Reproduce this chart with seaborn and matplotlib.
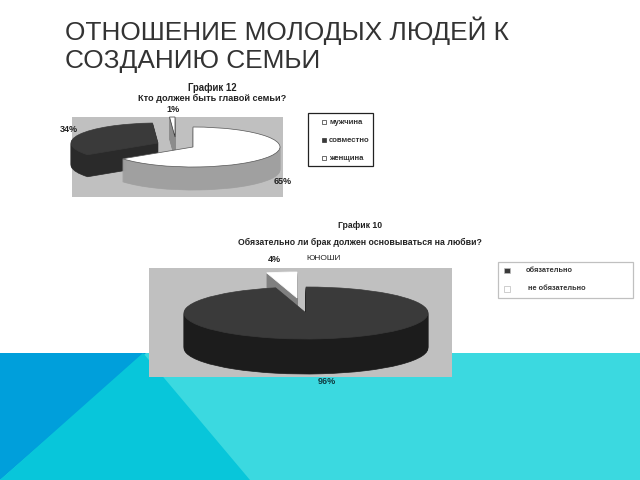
import matplotlib
matplotlib.use('Agg')
import matplotlib.pyplot as plt
from matplotlib.patches import Polygon, Rectangle
import seaborn as sns

slide_title = ['ОТНОШЕНИЕ МОЛОДЫХ ЛЮДЕЙ К', 'СОЗДАНИЮ СЕМЬИ']

top_title = 'График 12'
top_question = 'Кто должен быть главой семьи?'
top_labels = ['женщина', 'совместно', 'мужчина']
top_values = [65, 34, 1]

low_title = 'График 10'
low_question = 'Обязательно ли брак должен основываться на любви?'
low_note = 'юноши'
low_labels = ['обязательно', 'не обязательно']
low_values = [96, 4]

sns.set_theme(style='white')
plt.rcParams['font.family'] = ['Liberation Sans', 'DejaVu Sans']

GREY = '#c0c0c0'
DARK_TOP = '#3a3a3a'
DARK_SIDE = '#1c1c1c'
INK = '#222222'


def px_rect(ax, x0, y0, x1, y1, **kw):
    ax.add_patch(Rectangle((x0, y0), x1 - x0, y1 - y0, **kw))


def draw_slice(fig, values, idx, cx, cy, rx, ry, depth, top, side, outline=None, start=90):
    # one full-figure axes per slice, scaled so a unit circle becomes the ellipse
    ax = fig.add_axes([0, 0, 1, 1], facecolor='none')
    for d in list(range(depth, 0, -1)) + [0]:
        color = top if d == 0 else side
        edge = outline if (d == 0 and outline) else color
        wedges, _ = ax.pie(values, startangle=start, counterclock=False,
                           radius=1, colors=[color] * len(values),
                           center=(cx / rx, (480 - cy - d) / ry),
                           wedgeprops={'edgecolor': edge, 'linewidth': 0.5})
        for i, w in enumerate(wedges):
            if i != idx:
                w.set_visible(False)
    ax.set_aspect('auto')
    ax.set_xlim(0, 640 / rx)
    ax.set_ylim(0, 480 / ry)
    ax.axis('off')


fig = plt.figure(figsize=(6.4, 4.8), dpi=100, facecolor='white')
bg = fig.add_axes([0, 0, 1, 1])
bg.set_xlim(0, 640)
bg.set_ylim(480, 0)
bg.axis('off')

# slide background
px_rect(bg, 0, 353, 640, 480, color='#3bd9e0', lw=0)
bg.add_patch(Polygon([(0, 353), (146, 353), (0, 480)], color='#009fdb', lw=0))
bg.add_patch(Polygon([(143, 353), (250, 480), (0, 480)], color='#08c6da', lw=0))

bg.text(65, 31, slide_title[0], fontsize=18.9, color='#333333', va='center')
bg.text(65, 61, slide_title[1], fontsize=18.9, color='#333333', va='center')

# upper chart
px_rect(bg, 72, 117, 283, 197, color=GREY, lw=0)
bg.text(212, 88, top_title, fontsize=6.9, fontweight='bold', ha='center', va='center', color=INK)
bg.text(212, 98, top_question, fontsize=6.6, fontweight='bold', ha='center', va='center', color=INK)
bg.text(173, 110, f'{top_values[2]}%', fontsize=6.5, fontweight='bold', ha='center', va='center', color=INK)
bg.text(69, 129, f'{top_values[1]}%', fontsize=6.5, fontweight='bold', ha='center', va='center', color=INK)
bg.text(283, 182, f'{top_values[0]}%', fontsize=6.5, fontweight='bold', ha='center', va='center', color=INK)

px_rect(bg, 308, 113, 373, 166, fc='white', ec=INK, lw=0.9)
top_order = [2, 1, 0]
top_marks = ['white', DARK_TOP, 'white']
for row, (k, mark) in enumerate(zip(top_order, top_marks)):
    y = 122 + 18 * row
    px_rect(bg, 322, y - 2, 326, y + 2, fc=mark, ec='#333333', lw=0.5)
    bg.text(329, y, top_labels[k], fontsize=5.6, fontweight='bold', va='center', color='#333333')

# lower chart
px_rect(bg, 149, 268, 452, 377, color=GREY, lw=0)
bg.text(360, 226, low_title, fontsize=6.2, fontweight='bold', ha='center', va='center', color=INK)
bg.text(360, 242, low_question, fontsize=6.3, fontweight='bold', ha='center', va='center', color=INK)
bg.text(324, 258, low_note.upper(), fontsize=6, ha='center', va='center', color=INK)
bg.text(274, 260, f'{low_values[1]}%', fontsize=6.5, fontweight='bold', ha='center', va='center', color=INK)
bg.text(327, 382, f'{low_values[0]}%', fontsize=6.5, fontweight='bold', ha='center', va='center', color='#0f3a40')

px_rect(bg, 498, 262, 633, 298, fc='white', ec='#c0c0c0', lw=0.9)
low_marks = [DARK_TOP, 'white']
low_x = [526, 528]
for row, lab in enumerate(low_labels):
    y = 270 + 18.5 * row
    px_rect(bg, 504, y - 2.5, 510, y + 3, fc=low_marks[row], ec='#bbbbbb', lw=0.5)
    bg.text(low_x[row], y, lab, fontsize=5.3, fontweight='bold', va='center', color='#333333')

# upper pie, back to front
draw_slice(fig, top_values, 1, 158, 143, 87, 20, 22, DARK_TOP, '#2a2a2a')
draw_slice(fig, top_values, 2, 175, 137, 87, 20, 22, 'white', '#8c8c8c', outline='#333333')
draw_slice(fig, top_values, 0, 193, 147, 87, 20, 23, 'white', '#a0a0a0', outline='#555555')

# lower pie
draw_slice(fig, low_values, 1, 297, 298, 122, 26, 35, 'white', '#808080')
draw_slice(fig, low_values, 0, 306, 313, 122, 26, 35, DARK_TOP, DARK_SIDE)

fig.savefig('out.png', dpi=100)
plt.close(fig)
